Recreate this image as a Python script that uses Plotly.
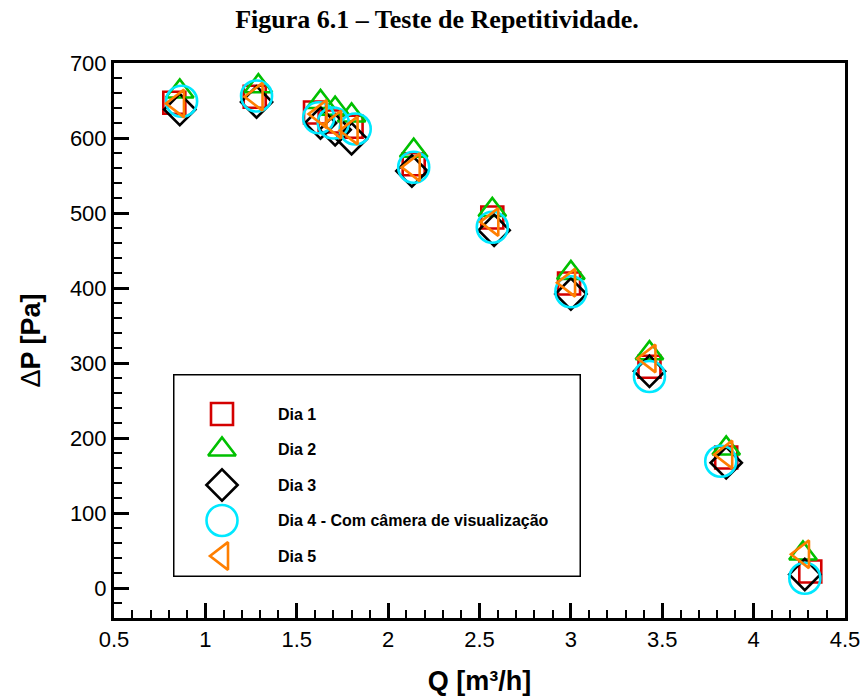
import plotly.graph_objects as go

# Vazão (m³/h) e perda de carga (Pa) de cada dia de ensaio
series_names = ["Dia 1", "Dia 2", "Dia 3", "Dia 4 - Com câmera de visualização", "Dia 5"]

q_dia1 = [0.83, 1.27, 1.60, 1.68, 1.80, 2.14, 2.57, 2.99, 3.43, 3.85, 4.31]
dp_dia1 = [647, 655, 634, 622, 615, 565, 494, 406, 295, 174, 22]

q_dia2 = [0.86, 1.29, 1.63, 1.71, 1.80, 2.14, 2.57, 3.00, 3.43, 3.85, 4.27]
dp_dia2 = [662, 669, 648, 639, 630, 583, 504, 420, 313, 186, 46]

q_dia3 = [0.86, 1.28, 1.63, 1.71, 1.80, 2.13, 2.58, 3.00, 3.43, 3.85, 4.28]
dp_dia3 = [638, 648, 620, 611, 599, 556, 477, 392, 289, 167, 18]

q_dia4 = [0.87, 1.28, 1.62, 1.70, 1.82, 2.14, 2.57, 3.00, 3.43, 3.82, 4.28]
dp_dia4 = [649, 656, 627, 620, 612, 561, 481, 395, 282, 169, 13]

q_dia5 = [0.85, 1.28, 1.63, 1.71, 1.80, 2.14, 2.57, 2.99, 3.43, 3.85, 4.27]
dp_dia5 = [646, 655, 632, 618, 610, 561, 488, 407, 306, 178, 45]

x_ticks = [0.5, 1, 1.5, 2, 2.5, 3, 3.5, 4, 4.5]
y_ticks = [0, 100, 200, 300, 400, 500, 600, 700]

q_data = [q_dia1, q_dia2, q_dia3, q_dia4, q_dia5]
dp_data = [dp_dia1, dp_dia2, dp_dia3, dp_dia4, dp_dia5]

symbols = ["square-open", "triangle-up-open", "diamond-open", "circle-open", "triangle-left-open"]
colors = ["#d40000", "#00c000", "#000000", "#00e8ff", "#ff7f00"]
sizes = [22, 24, 24, 31, 24]

W, H = 864, 699
ML, MR, MT, MB = 114, 19, 63, 81

fig = go.Figure()

for name, q, dp, sym, col, sz in zip(series_names, q_data, dp_data, symbols, colors, sizes):
    fig.add_trace(go.Scatter(
        x=q, y=dp, mode="markers", name=name, showlegend=False,
        marker=dict(symbol=sym, size=sz, color=col, line=dict(color=col, width=2.6)),
        cliponaxis=False,
    ))

# Legend panel drawn on its own hidden axes (pixel-like units, y measured from the top)
box_w, box_h = 408, 203
box_left, box_top = 173, 374
row_y = [40, 75.5, 111, 146.5, 182]
sym_x, txt_x = 49, 103

pw, ph = W - ML - MR, H - MT - MB
x2_dom = [(box_left - ML) / pw, (box_left + box_w - ML) / pw]
y2_dom = [(H - MB - (box_top + box_h)) / ph, (H - MB - box_top) / ph]

for name, sym, col, sz, ry in zip(series_names, symbols, colors, sizes, row_y):
    fig.add_trace(go.Scatter(
        x=[sym_x], y=[ry], mode="markers", xaxis="x2", yaxis="y2", showlegend=False,
        marker=dict(symbol=sym, size=sz, color=col, line=dict(color=col, width=2.6)),
        hoverinfo="skip",
    ))
    fig.add_annotation(
        x=txt_x, y=ry, xref="x2", yref="y2", text=name, showarrow=False,
        xanchor="left", yanchor="middle",
        font=dict(family="Liberation Sans, Arial", size=16, color="black", weight="bold"),
    )

fig.add_shape(
    type="rect", xref="x2", yref="y2", x0=0, x1=box_w, y0=0, y1=box_h,
    line=dict(color="black", width=3), fillcolor="white", layer="below",
)

axis_font = dict(family="Liberation Sans, Arial", size=22, color="black")

fig.update_layout(
    width=W, height=H,
    margin=dict(l=ML, r=MR, t=MT, b=MB),
    paper_bgcolor="white", plot_bgcolor="white",
    title=dict(
        text="<b>Figura 6.1 – Teste de Repetitividade.</b>",
        font=dict(family="Liberation Serif, Times New Roman", size=26, color="black"),
        x=437 / W, xanchor="center", y=1 - 19 / H, yanchor="middle",
    ),
    xaxis=dict(
        range=[0.5, 4.5], tickvals=x_ticks, ticktext=[f"{v:g}" for v in x_ticks],
        showgrid=False, zeroline=False, automargin=False,
        showline=True, linecolor="black", linewidth=3, mirror=True,
        ticks="inside", ticklen=15, tickwidth=2.5, tickcolor="black",
        minor=dict(dtick=0.1, ticks="inside", ticklen=8, tickwidth=1.5, tickcolor="black", showgrid=False),
        tickfont=axis_font,
        title=dict(text="<b>Q [m³/h]</b>", font=dict(family="Liberation Sans, Arial", size=27, color="black"), standoff=20),
    ),
    yaxis=dict(
        range=[-40, 700], tickvals=y_ticks,
        showgrid=False, zeroline=False, automargin=False,
        showline=True, linecolor="black", linewidth=3, mirror=True,
        ticks="inside", ticklen=15, tickwidth=2.5, tickcolor="black",
        minor=dict(dtick=20, tick0=0, ticks="inside", ticklen=8, tickwidth=1.5, tickcolor="black", showgrid=False),
        tickfont=axis_font,
        title=dict(text="Δ<b>P [Pa]</b>", font=dict(family="Liberation Sans, Arial", size=27, color="black"), standoff=22),
    ),
    xaxis2=dict(domain=x2_dom, range=[0, box_w], visible=False, fixedrange=True, anchor="y2"),
    yaxis2=dict(domain=y2_dom, range=[box_h, 0], visible=False, fixedrange=True, anchor="x2"),
)

fig.write_html("out.html")
